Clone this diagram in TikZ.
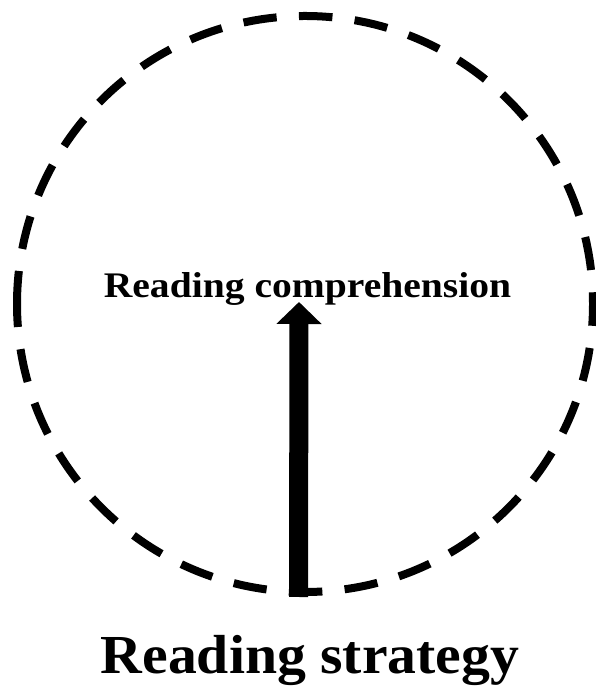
\documentclass[tikz,border=0pt]{standalone}
\usepackage{fontspec}
\setmainfont{Liberation Serif}
\usetikzlibrary{arrows.meta}

\begin{document}
\begin{tikzpicture}[x=1pt,y=1pt,>={Triangle[width=44pt,length=22pt]}]
    \useasboundingbox (0,0) rectangle (595,687);
    % dashed circle, started at its left point
    \coordinate (c) at (305,383);
    \draw[line width=8pt,dash pattern=on 33.5pt off 22.35pt,dash phase=10.5pt]
      ([xshift=-288pt]c) arc[start angle=180,end angle=540,radius=288];
    % labels
    \node (comp) at (307.5,389) [anchor=base,inner sep=0pt,xscale=1.1,font=\bfseries\fontsize{36}{43}\selectfont]{Reading comprehension};
    \node (strat) at (310,13) [anchor=base,inner sep=0pt,xscale=1.05,font=\bfseries\fontsize{55}{66}\selectfont]{Reading strategy};
    % arrow
    \coordinate (foot) at (298.5,90);
    \coordinate (tip) at (299,385);
    \draw[->,line width=19pt] (foot) -- (tip);
\end{tikzpicture}
\end{document}
